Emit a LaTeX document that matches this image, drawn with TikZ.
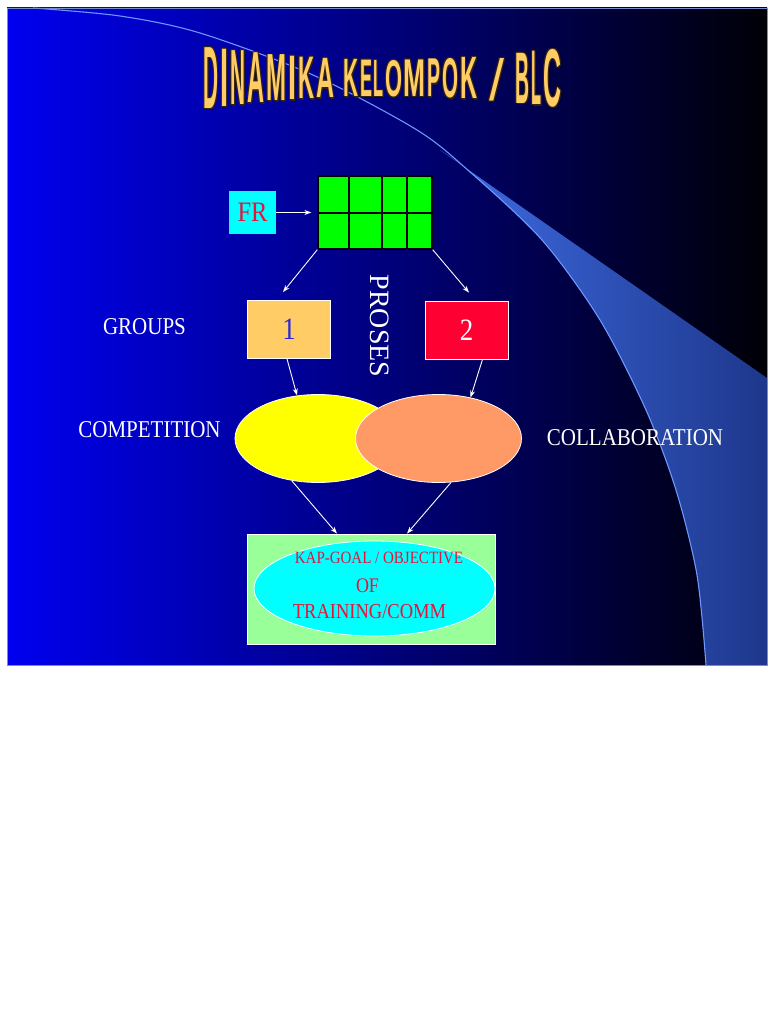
\documentclass[tikz,border=0pt]{standalone}
\usepackage{fontspec}
\setmainfont{Liberation Serif}
\setsansfont{Liberation Sans}
\usepackage{graphicx}
\usetikzlibrary{shapes.geometric,arrows.meta,calc}
\definecolor{slideL}{RGB}{0,0,240}
\definecolor{slideM}{RGB}{0,0,150}
\definecolor{slideR}{RGB}{0,0,6}
\definecolor{bandL}{RGB}{62,108,228}
\definecolor{bandR}{RGB}{30,55,140}
\definecolor{arcline}{RGB}{110,150,255}
\definecolor{titleC}{RGB}{255,204,102}
\definecolor{titleS}{RGB}{50,35,10}
\definecolor{cyanC}{RGB}{0,255,255}
\definecolor{redT}{RGB}{230,20,60}
\definecolor{gridG}{RGB}{0,255,0}
\definecolor{box1C}{RGB}{255,204,102}
\definecolor{oneC}{RGB}{40,40,220}
\definecolor{box2C}{RGB}{255,0,51}
\definecolor{yelC}{RGB}{255,255,0}
\definecolor{oraC}{RGB}{255,153,102}
\definecolor{goalG}{RGB}{153,255,153}
\newcommand{\vst}[1]{\scalebox{1}[1.15]{#1}}
\begin{document}
\begin{tikzpicture}[x=1pt,y=-1pt,
  arr/.style={draw=white, line width=0.9pt, -{Stealth[length=7pt,width=5pt]}},
  lbl/.style={text=white, font=\fontsize{21}{24}\selectfont, inner sep=0pt, anchor=base},
  wbox/.style={draw=white, line width=0.8pt, inner sep=0pt, minimum width=83pt, minimum height=58pt},
  oval/.style={ellipse, draw=white, line width=0.8pt, inner sep=0pt, minimum width=166pt, minimum height=88pt},
  redtxt/.style={text=redT, inner sep=0pt, anchor=base}]
\useasboundingbox (0,0) rectangle (768,1024);
\fill[white] (0,0) rectangle (768,1024);
% slide background
\shade[left color=slideL, middle color=slideM, right color=slideR] (7,8) rectangle (767,665);
% swoosh band
\shade[left color=bandL, right color=bandR]
  plot[smooth] coordinates {(440,150) (470,172) (542,240) (600,320) (646,410) (676,490) (697,575) (706,665)}
  -- (767,665) -- (767,378) -- cycle;
\draw[arcline, line width=1.1pt]
  plot[smooth] coordinates {(33,8) (120,16) (200,33) (313,75) (417,130) (470,172) (542,240) (600,320) (646,410) (676,490) (697,575) (706,665)};
\draw[draw=arcline!60!gray, line width=0.6pt] (7,8) rectangle (767,665);
% title (wave-warped letters)
\foreach \ch/\xa/\xb [count=\i] in {D/203/218, I/220/228, N/230/245, A/247/264, M/266/286, I/288/296, K/298/314, A/316/334, K/343/358, E/360/372, L/373/383, O/385/402, M/403/425, P/427/440, O/442/458, K/460/477, B/515/529, L/531/541, C/543/561}{
  \pgfmathsetmacro\xm{(\xa+\xb)/2}
  \pgfmathsetmacro\u{((\xm-388)/178)^2}
  \pgfmathsetmacro\tp{60-13*\u}
  \pgfmathsetmacro\hh{36+25*\u}
  \pgfmathsetmacro\ww{\xb-\xa}
  \foreach \dx/\dy in {-0.9/-0.9, 0.9/-0.9, -0.9/0.9, 0.9/0.9, 1.5/1.5}
    \node[anchor=north west, inner sep=0pt, text=titleS] at (\xa+\dx,\tp+\dy) {\resizebox{\ww pt}{\hh pt}{\sffamily\bfseries \ch}};
  \node[anchor=north west, inner sep=0pt, text=titleC] (t\i) at (\xa,\tp) {\resizebox{\ww pt}{\hh pt}{\sffamily\bfseries \ch}};
}
\foreach \dx/\dy in {-0.9/-0.9, 0.9/-0.9, -0.9/0.9, 0.9/0.9, 1.5/1.5}
  \node[anchor=north west, inner sep=0pt, text=titleS] at (489+\dx,58+\dy) {\resizebox{15pt}{42pt}{\sffamily /}};
\node[anchor=north west, inner sep=0pt, text=titleC] (tslash) at (489,58) {\resizebox{15pt}{42pt}{\sffamily /}};
% FR and grid
\node[fill=cyanC, minimum width=47pt, minimum height=43pt, inner sep=0pt] (fr) at (252.5,212.5)
  {\fontsize{24.5}{28}\selectfont\color{redT}\vst{FR}};
\node[draw=black, line width=1.3pt, fill=gridG, minimum width=114pt, minimum height=73pt, inner sep=0pt] (grid) at (375,212.5) {};
\draw[black, line width=1.3pt] (349,176) -- (349,249) (382,176) -- (382,249) (407,176) -- (407,249) (318,213) -- (432,213);
\draw[arr, shorten >=6pt] (fr.east) -- (grid.west);
% groups
\node[wbox, fill=box1C] (box1) at (289,329.5) {\fontsize{27}{30}\selectfont\color{oneC}\vst{1}};
\node[wbox, fill=box2C] (box2) at (466.5,330) {\fontsize{27}{30}\selectfont\color{white}\vst{2}};
\draw[arr] (grid.south west) -- ($(box1.north)+(-6,-8)$);
\draw[arr] (grid.south east) -- ($(box2.north)+(2.5,-8)$);
\node[text=white, inner sep=0pt, rotate=-90, font=\fontsize{28}{30}\selectfont] (proses) at (380,326) {PROSES};
\node[lbl] (groups) at (144.5,334) {\vst{GROUPS}};
\node[lbl] (competition) at (149.5,437) {\vst{COMPETITION}};
\node[lbl] (collab) at (635,445) {\vst{COLLABORATION}};
% ellipses
\node[oval, fill=yelC] (ell1) at (318,438.5) {};
\node[oval, fill=oraC] (ell2) at (438.5,438.5) {};
\draw[arr] ($(box1.south)+(-2,0)$) -- (ell1.116);
\draw[arr] ($(box2.south)+(16,0)$) -- (ell2.52);
% goal
\node[draw=white, line width=0.8pt, fill=goalG, minimum width=248pt, minimum height=110pt, inner sep=0pt] (goal) at (371,589) {};
\node[ellipse, draw=white, line width=0.8pt, fill=cyanC, minimum width=241pt, minimum height=95pt, inner sep=0pt] (goalell) at (374.5,588.5) {};
\draw[arr] (ell1.238) -- ($(goal.north)+(-34,0)$);
\draw[arr] (ell2.286) -- ($(goal.north)+(36,0)$);
\node[redtxt, font=\fontsize{15}{17}\selectfont] (kap) at (379,563) {\vst{KAP-GOAL / OBJECTIVE}};
\node[redtxt, font=\fontsize{18}{20}\selectfont] (of) at (367.5,592) {\vst{OF}};
\node[redtxt, font=\fontsize{18.5}{20}\selectfont] (train) at (369.5,618) {\vst{TRAINING/COMM}};
\end{tikzpicture}
\end{document}
